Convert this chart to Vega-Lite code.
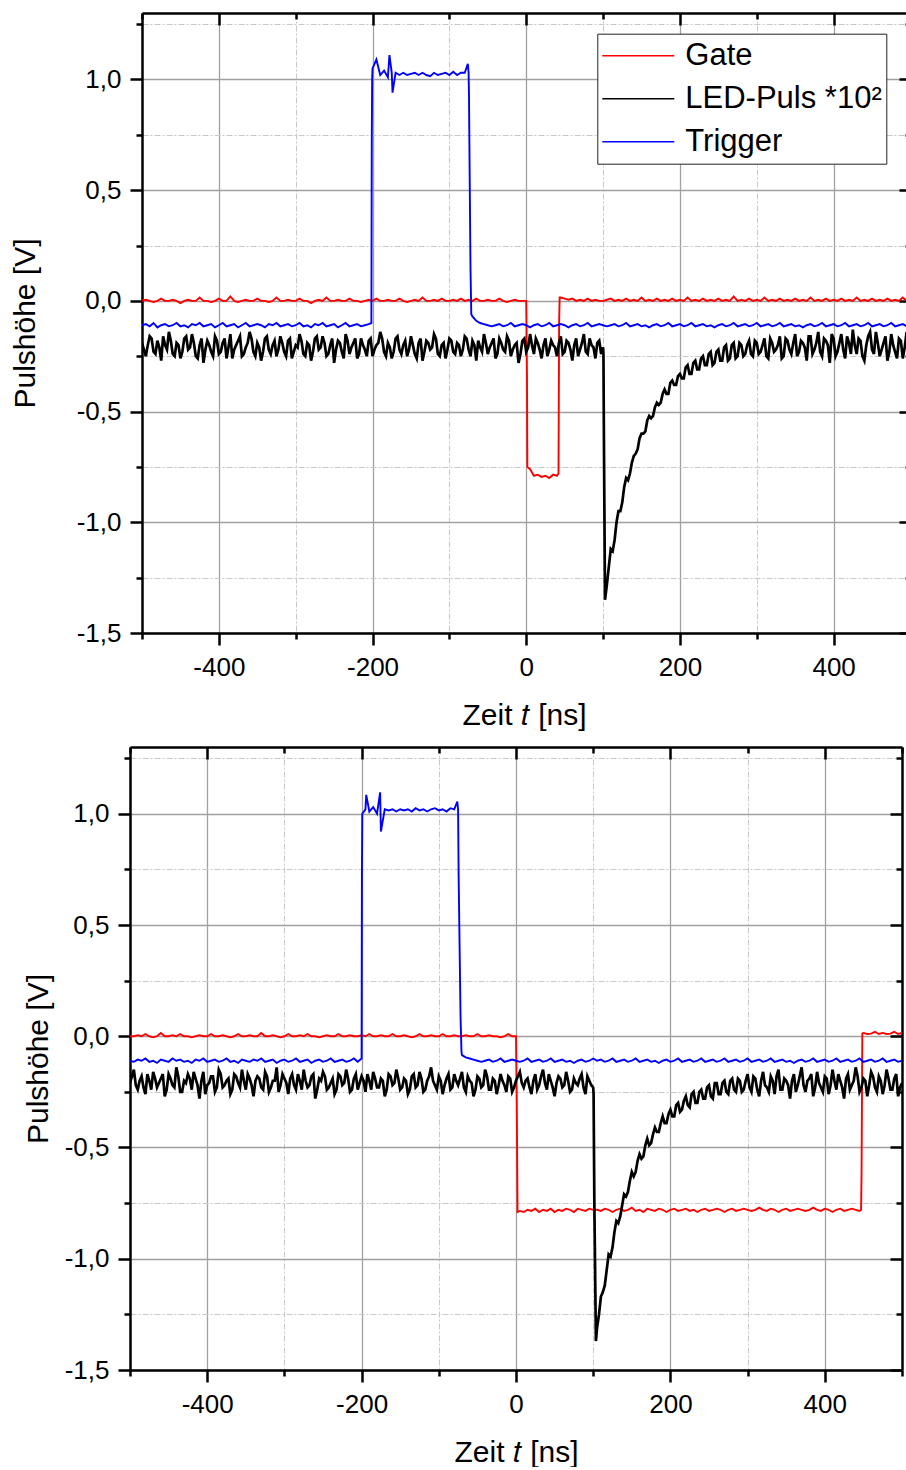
{
"$schema": "https://vega.github.io/schema/vega-lite/v6.json",
"padding": {"left": 10, "top": 11, "right": 0, "bottom": 0},
"spacing": 15,
"config": {
 "view": {"stroke": null},
 "font": "Liberation Sans",
 "axis": {"labelFont": "Liberation Sans", "labelFontSize": 26, "labelColor": "black", "titleFont": "Liberation Sans", "titleFontSize": 30, "titleFontWeight": "normal", "titleColor": "black", "domainColor": "black", "domainWidth": 2.5, "tickColor": "black", "tickWidth": 2.5, "labelFlush": false, "labelOverlap": false, "labelBound": false}
},
"datasets": {
"top": [
{"t":-500,"G":0,"L":-0.19,"T":-0.11},{"t":-495,"G":0.005,"L":-0.25,"T":-0.105},{"t":-490,"G":0,"L":-0.16,"T":-0.115},{"t":-485,"G":-0.005,"L":-0.23,"T":-0.1},{"t":-480,"G":0,"L":-0.18,"T":-0.12},{"t":-475,"G":0.01,"L":-0.27,"T":-0.11},{"t":-470,"G":0,"L":-0.2,"T":-0.105},{"t":-465,"G":0,"L":-0.14,"T":-0.115},{"t":-460,"G":0.005,"L":-0.24,"T":-0.11},{"t":-455,"G":0,"L":-0.19,"T":-0.1},
{"t":-450,"G":-0.01,"L":-0.26,"T":-0.115},{"t":-445,"G":0,"L":-0.17,"T":-0.11},{"t":-440,"G":0.005,"L":-0.22,"T":-0.12},{"t":-435,"G":0,"L":-0.15,"T":-0.105},{"t":-430,"G":0,"L":-0.25,"T":-0.11},{"t":-425,"G":0.015,"L":-0.2,"T":-0.1},{"t":-420,"G":0,"L":-0.28,"T":-0.115},{"t":-415,"G":0,"L":-0.18,"T":-0.11},{"t":-410,"G":-0.005,"L":-0.23,"T":-0.105},{"t":-405,"G":0,"L":-0.16,"T":-0.12},
{"t":-400,"G":0.01,"L":-0.24,"T":-0.11},{"t":-395,"G":0,"L":-0.19,"T":-0.1},{"t":-390,"G":0,"L":-0.26,"T":-0.115},{"t":-385,"G":0.02,"L":-0.15,"T":-0.11},{"t":-380,"G":0,"L":-0.22,"T":-0.105},{"t":-375,"G":-0.005,"L":-0.18,"T":-0.12},{"t":-370,"G":0,"L":-0.25,"T":-0.11},{"t":-365,"G":0.005,"L":-0.21,"T":-0.1},{"t":-360,"G":0,"L":-0.14,"T":-0.115},{"t":-355,"G":0,"L":-0.23,"T":-0.11},
{"t":-350,"G":0.01,"L":-0.19,"T":-0.105},{"t":-345,"G":0,"L":-0.27,"T":-0.11},{"t":-340,"G":0,"L":-0.17,"T":-0.12},{"t":-335,"G":-0.005,"L":-0.22,"T":-0.105},{"t":-330,"G":0,"L":-0.2,"T":-0.11},{"t":-325,"G":0.015,"L":-0.25,"T":-0.1},{"t":-320,"G":0,"L":-0.16,"T":-0.115},{"t":-315,"G":0,"L":-0.23,"T":-0.11},{"t":-310,"G":0.005,"L":-0.18,"T":-0.105},{"t":-305,"G":0,"L":-0.26,"T":-0.115},
{"t":-300,"G":0,"L":-0.2,"T":-0.11},{"t":-295,"G":0.01,"L":-0.15,"T":-0.1},{"t":-290,"G":0,"L":-0.24,"T":-0.115},{"t":-285,"G":0,"L":-0.19,"T":-0.11},{"t":-280,"G":-0.01,"L":-0.27,"T":-0.12},{"t":-275,"G":0,"L":-0.17,"T":-0.105},{"t":-270,"G":0.005,"L":-0.22,"T":-0.11},{"t":-265,"G":0,"L":-0.16,"T":-0.1},{"t":-260,"G":0.015,"L":-0.25,"T":-0.115},{"t":-255,"G":0,"L":-0.2,"T":-0.11},
{"t":-250,"G":0,"L":-0.28,"T":-0.105},{"t":-245,"G":0.005,"L":-0.18,"T":-0.12},{"t":-240,"G":0,"L":-0.23,"T":-0.11},{"t":-235,"G":0,"L":-0.15,"T":-0.1},{"t":-230,"G":0.01,"L":-0.24,"T":-0.115},{"t":-225,"G":0,"L":-0.19,"T":-0.11},{"t":-220,"G":0,"L":-0.26,"T":-0.105},{"t":-215,"G":-0.005,"L":-0.17,"T":-0.115},{"t":-210,"G":0,"L":-0.22,"T":-0.11},{"t":-205,"G":0.005,"L":-0.18,"T":-0.105},
{"t":-201.5,"T":-0.1},{"t":-201,"T":0.71},{"t":-200.5,"T":1.0},
{"t":-200,"G":0,"L":-0.25,"T":1.05},{"t":-195,"G":0.01,"L":-0.2,"T":1.09},{"t":-190,"G":0,"L":-0.14,"T":1.02},{"t":-185,"G":0,"L":-0.23,"T":1.04},{"t":-180,"G":0.005,"L":-0.19,"T":1.01},{"t":-178,"T":1.11},{"t":-175,"G":0,"L":-0.26,"T":1.03},{"t":-174,"T":0.94},
{"t":-170,"G":0,"L":-0.17,"T":1.03},{"t":-165,"G":0.01,"L":-0.22,"T":1.02},{"t":-160,"G":0,"L":-0.2,"T":1.03},{"t":-155,"G":-0.005,"L":-0.25,"T":1.02},{"t":-150,"G":0,"L":-0.16,"T":1.025},{"t":-145,"G":0.005,"L":-0.24,"T":1.03},{"t":-140,"G":0,"L":-0.19,"T":1.02},{"t":-135,"G":0.015,"L":-0.27,"T":1.03},{"t":-130,"G":0,"L":-0.18,"T":1.02},{"t":-125,"G":0,"L":-0.22,"T":1.015},
{"t":-120,"G":0.005,"L":-0.15,"T":1.03},{"t":-115,"G":0,"L":-0.24,"T":1.02},{"t":-110,"G":0.01,"L":-0.2,"T":1.025},{"t":-105,"G":0,"L":-0.26,"T":1.03},{"t":-100,"G":0,"L":-0.17,"T":1.02},{"t":-95,"G":0.005,"L":-0.23,"T":1.035},{"t":-90,"G":0,"L":-0.19,"T":1.02},{"t":-85,"G":0.01,"L":-0.25,"T":1.03},{"t":-80,"G":0,"L":-0.16,"T":1.03},
{"t":-76,"T":1.07},{"t":-75,"G":0.005,"L":-0.22,"T":1.03},{"t":-74.5,"T":0.93},{"t":-72.5,"T":0.14},{"t":-71.5,"T":-0.06},
{"t":-70,"G":0,"L":-0.18,"T":-0.07},{"t":-65,"G":0.01,"L":-0.27,"T":-0.09},{"t":-60,"G":0,"L":-0.21,"T":-0.1},{"t":-55,"G":0,"L":-0.15,"T":-0.105},{"t":-50,"G":0.005,"L":-0.24,"T":-0.11},{"t":-45,"G":0,"L":-0.19,"T":-0.115},{"t":-40,"G":0,"L":-0.26,"T":-0.11},{"t":-35,"G":0.01,"L":-0.17,"T":-0.105},{"t":-30,"G":0,"L":-0.22,"T":-0.115},{"t":-25,"G":-0.005,"L":-0.16,"T":-0.11},
{"t":-20,"G":0,"L":-0.25,"T":-0.1},{"t":-15,"G":0.005,"L":-0.2,"T":-0.115},{"t":-10,"G":0,"L":-0.28,"T":-0.11},{"t":-5,"G":0,"L":-0.18,"T":-0.105},{"t":0,"G":0,"L":-0.23,"T":-0.11},
{"t":1,"G":-0.35},{"t":1.5,"G":-0.75},
{"t":5,"G":-0.76,"L":-0.15,"T":-0.12},{"t":10,"G":-0.79,"L":-0.24,"T":-0.11},{"t":15,"G":-0.785,"L":-0.19,"T":-0.105},{"t":20,"G":-0.795,"L":-0.26,"T":-0.115},{"t":25,"G":-0.79,"L":-0.17,"T":-0.11},{"t":30,"G":-0.8,"L":-0.22,"T":-0.1},{"t":35,"G":-0.785,"L":-0.2,"T":-0.115},{"t":40,"G":-0.79,"L":-0.25,"T":-0.11},
{"t":42,"G":-0.78},{"t":42.8,"G":-0.1},{"t":43.5,"G":0.015},
{"t":45,"G":0.015,"L":-0.16,"T":-0.105},{"t":50,"G":0.01,"L":-0.23,"T":-0.11},{"t":55,"G":0.005,"L":-0.19,"T":-0.12},{"t":60,"G":0.01,"L":-0.27,"T":-0.11},{"t":65,"G":0,"L":-0.17,"T":-0.105},{"t":70,"G":0.005,"L":-0.22,"T":-0.115},{"t":75,"G":0,"L":-0.15,"T":-0.11},{"t":80,"G":0.01,"L":-0.24,"T":-0.1},{"t":85,"G":0,"L":-0.2,"T":-0.115},{"t":90,"G":0.005,"L":-0.26,"T":-0.11},{"t":95,"G":0,"L":-0.18,"T":-0.105},{"t":100,"G":0,"L":-0.21,"T":-0.11},
{"t":100.5,"L":-0.24},{"t":101,"L":-0.56},{"t":102.5,"L":-1.35},
{"t":105,"G":0.005,"L":-1.28,"T":-0.115},{"t":110,"G":0.01,"L":-1.12,"T":-0.11},{"t":115,"G":0,"L":-1.08,"T":-0.105},{"t":120,"G":0.005,"L":-0.95,"T":-0.115},{"t":125,"G":0,"L":-0.91,"T":-0.11},{"t":130,"G":0.01,"L":-0.8,"T":-0.1},{"t":135,"G":0,"L":-0.78,"T":-0.115},{"t":140,"G":0.005,"L":-0.7,"T":-0.11},{"t":145,"G":0,"L":-0.67,"T":-0.105},{"t":150,"G":0.015,"L":-0.6,"T":-0.115},
{"t":155,"G":0,"L":-0.59,"T":-0.11},{"t":160,"G":0.005,"L":-0.52,"T":-0.12},{"t":165,"G":0,"L":-0.52,"T":-0.11},{"t":170,"G":0.01,"L":-0.46,"T":-0.105},{"t":175,"G":0,"L":-0.46,"T":-0.115},{"t":180,"G":0.005,"L":-0.4,"T":-0.11},{"t":185,"G":0,"L":-0.42,"T":-0.1},{"t":190,"G":0.01,"L":-0.36,"T":-0.115},{"t":195,"G":0,"L":-0.38,"T":-0.11},{"t":200,"G":0.005,"L":-0.33,"T":-0.105},
{"t":205,"G":0,"L":-0.35,"T":-0.115},{"t":210,"G":0.015,"L":-0.29,"T":-0.11},{"t":215,"G":0,"L":-0.33,"T":-0.1},{"t":220,"G":0.005,"L":-0.27,"T":-0.115},{"t":225,"G":0,"L":-0.31,"T":-0.11},{"t":230,"G":0.01,"L":-0.25,"T":-0.105},{"t":235,"G":0,"L":-0.29,"T":-0.115},{"t":240,"G":0.005,"L":-0.23,"T":-0.11},{"t":245,"G":0,"L":-0.28,"T":-0.12},{"t":250,"G":0.01,"L":-0.22,"T":-0.11},
{"t":255,"G":0,"L":-0.27,"T":-0.105},{"t":260,"G":0.005,"L":-0.2,"T":-0.115},{"t":265,"G":0,"L":-0.26,"T":-0.11},{"t":270,"G":0.02,"L":-0.19,"T":-0.1},{"t":275,"G":0,"L":-0.25,"T":-0.115},{"t":280,"G":0.005,"L":-0.2,"T":-0.11},{"t":285,"G":0,"L":-0.24,"T":-0.105},{"t":290,"G":0.01,"L":-0.18,"T":-0.115},{"t":295,"G":0,"L":-0.25,"T":-0.11},{"t":300,"G":0.005,"L":-0.19,"T":-0.1},
{"t":305,"G":0,"L":-0.23,"T":-0.115},{"t":310,"G":0.015,"L":-0.17,"T":-0.11},{"t":315,"G":0,"L":-0.26,"T":-0.105},{"t":320,"G":0.005,"L":-0.19,"T":-0.115},{"t":325,"G":0,"L":-0.22,"T":-0.11},{"t":330,"G":0.01,"L":-0.16,"T":-0.1},{"t":335,"G":0,"L":-0.25,"T":-0.115},{"t":340,"G":0.005,"L":-0.18,"T":-0.11},{"t":345,"G":0,"L":-0.24,"T":-0.105},{"t":350,"G":0.01,"L":-0.15,"T":-0.115},
{"t":355,"G":0,"L":-0.23,"T":-0.11},{"t":360,"G":0.005,"L":-0.19,"T":-0.12},{"t":365,"G":0,"L":-0.27,"T":-0.11},{"t":370,"G":0.015,"L":-0.16,"T":-0.105},{"t":375,"G":0,"L":-0.22,"T":-0.115},{"t":380,"G":0.005,"L":-0.14,"T":-0.11},{"t":385,"G":0,"L":-0.25,"T":-0.1},{"t":390,"G":0.01,"L":-0.18,"T":-0.115},{"t":395,"G":0,"L":-0.28,"T":-0.11},{"t":400,"G":0.005,"L":-0.17,"T":-0.105},
{"t":405,"G":0,"L":-0.23,"T":-0.115},{"t":410,"G":0.01,"L":-0.15,"T":-0.11},{"t":415,"G":0,"L":-0.26,"T":-0.1},{"t":420,"G":0.005,"L":-0.19,"T":-0.115},{"t":425,"G":0,"L":-0.13,"T":-0.11},{"t":430,"G":0.015,"L":-0.24,"T":-0.105},{"t":435,"G":0,"L":-0.18,"T":-0.115},{"t":440,"G":0.005,"L":-0.27,"T":-0.11},{"t":445,"G":0,"L":-0.16,"T":-0.1},{"t":450,"G":0.01,"L":-0.22,"T":-0.115},
{"t":455,"G":0,"L":-0.14,"T":-0.11},{"t":460,"G":0.005,"L":-0.25,"T":-0.105},{"t":465,"G":0,"L":-0.19,"T":-0.115},{"t":470,"G":0.01,"L":-0.27,"T":-0.11},{"t":475,"G":0,"L":-0.15,"T":-0.1},{"t":480,"G":0.005,"L":-0.23,"T":-0.115},{"t":485,"G":0,"L":-0.17,"T":-0.11},{"t":490,"G":0.015,"L":-0.26,"T":-0.105},{"t":495,"G":0,"L":-0.14,"T":-0.115},{"t":500,"G":0.005,"L":-0.21,"T":-0.11},
{"t":-497.5,"L":-0.22},{"t":-492.5,"L":-0.2},{"t":-487.5,"L":-0.17},{"t":-482.5,"L":-0.24},{"t":-477.5,"L":-0.21},{"t":-472.5,"L":-0.16},{"t":-467.5,"L":-0.22},{"t":-462.5,"L":-0.18},{"t":-457.5,"L":-0.25},{"t":-452.5,"L":-0.2},
{"t":-447.5,"L":-0.23},{"t":-442.5,"L":-0.16},{"t":-437.5,"L":-0.21},{"t":-432.5,"L":-0.19},{"t":-427.5,"L":-0.26},{"t":-422.5,"L":-0.17},{"t":-417.5,"L":-0.22},{"t":-412.5,"L":-0.2},{"t":-407.5,"L":-0.25},{"t":-402.5,"L":-0.18},
{"t":-397.5,"L":-0.23},{"t":-392.5,"L":-0.17},{"t":-387.5,"L":-0.21},{"t":-382.5,"L":-0.26},{"t":-377.5,"L":-0.2},{"t":-372.5,"L":-0.16},{"t":-367.5,"L":-0.24},{"t":-362.5,"L":-0.19},{"t":-357.5,"L":-0.17},{"t":-352.5,"L":-0.25},
{"t":-347.5,"L":-0.21},{"t":-342.5,"L":-0.23},{"t":-337.5,"L":-0.16},{"t":-332.5,"L":-0.24},{"t":-327.5,"L":-0.18},{"t":-322.5,"L":-0.22},{"t":-317.5,"L":-0.19},{"t":-312.5,"L":-0.25},{"t":-307.5,"L":-0.17},{"t":-302.5,"L":-0.23},
{"t":-297.5,"L":-0.21},{"t":-292.5,"L":-0.18},{"t":-287.5,"L":-0.25},{"t":-282.5,"L":-0.2},{"t":-277.5,"L":-0.23},{"t":-272.5,"L":-0.16},{"t":-267.5,"L":-0.21},{"t":-262.5,"L":-0.19},{"t":-257.5,"L":-0.24},{"t":-252.5,"L":-0.17},
{"t":-247.5,"L":-0.22},{"t":-242.5,"L":-0.19},{"t":-237.5,"L":-0.26},{"t":-232.5,"L":-0.18},{"t":-227.5,"L":-0.21},{"t":-222.5,"L":-0.17},{"t":-217.5,"L":-0.24},{"t":-212.5,"L":-0.2},{"t":-207.5,"L":-0.25},{"t":-202.5,"L":-0.17},
{"t":-197.5,"L":-0.22},{"t":-192.5,"L":-0.19},{"t":-187.5,"L":-0.17},{"t":-182.5,"L":-0.25},{"t":-177.5,"L":-0.21},{"t":-172.5,"L":-0.23},{"t":-167.5,"L":-0.16},{"t":-162.5,"L":-0.24},{"t":-157.5,"L":-0.18},{"t":-152.5,"L":-0.22},
{"t":-147.5,"L":-0.2},{"t":-142.5,"L":-0.26},{"t":-137.5,"L":-0.17},{"t":-132.5,"L":-0.23},{"t":-127.5,"L":-0.19},{"t":-122.5,"L":-0.21},{"t":-117.5,"L":-0.17},{"t":-112.5,"L":-0.25},{"t":-107.5,"L":-0.19},{"t":-102.5,"L":-0.22},
{"t":-97.5,"L":-0.18},{"t":-92.5,"L":-0.24},{"t":-87.5,"L":-0.2},{"t":-82.5,"L":-0.22},{"t":-77.5,"L":-0.17},{"t":-72.5,"L":-0.25},{"t":-67.5,"L":-0.2},{"t":-62.5,"L":-0.18},{"t":-57.5,"L":-0.23},{"t":-52.5,"L":-0.19},
{"t":-47.5,"L":-0.21},{"t":-42.5,"L":-0.17},{"t":-37.5,"L":-0.24},{"t":-32.5,"L":-0.19},{"t":-27.5,"L":-0.23},{"t":-22.5,"L":-0.18},{"t":-17.5,"L":-0.22},{"t":-12.5,"L":-0.19},{"t":-7.5,"L":-0.24},{"t":-2.5,"L":-0.17},
{"t":2.5,"L":-0.21},{"t":7.5,"L":-0.2},{"t":12.5,"L":-0.17},{"t":17.5,"L":-0.22},{"t":22.5,"L":-0.2},{"t":27.5,"L":-0.25},{"t":32.5,"L":-0.18},{"t":37.5,"L":-0.21},{"t":42.5,"L":-0.19},{"t":47.5,"L":-0.24},
{"t":52.5,"L":-0.18},{"t":57.5,"L":-0.22},{"t":62.5,"L":-0.2},{"t":67.5,"L":-0.25},{"t":72.5,"L":-0.19},{"t":77.5,"L":-0.23},{"t":82.5,"L":-0.17},{"t":87.5,"L":-0.21},{"t":92.5,"L":-0.19},{"t":97.5,"L":-0.24},
{"t":107.5,"L":-1.2},{"t":112.5,"L":-1.13},{"t":117.5,"L":-1.0},{"t":122.5,"L":-0.95},{"t":127.5,"L":-0.84},{"t":132.5,"L":-0.81},{"t":137.5,"L":-0.73},{"t":142.5,"L":-0.69},{"t":147.5,"L":-0.62},{"t":152.5,"L":-0.6},
{"t":157.5,"L":-0.54},{"t":162.5,"L":-0.53},{"t":167.5,"L":-0.48},{"t":172.5,"L":-0.47},{"t":177.5,"L":-0.42},{"t":182.5,"L":-0.42},{"t":187.5,"L":-0.37},{"t":192.5,"L":-0.38},{"t":197.5,"L":-0.34},{"t":202.5,"L":-0.35},
{"t":207.5,"L":-0.3},{"t":212.5,"L":-0.33},{"t":217.5,"L":-0.28},{"t":222.5,"L":-0.31},{"t":227.5,"L":-0.26},{"t":232.5,"L":-0.29},{"t":237.5,"L":-0.24},{"t":242.5,"L":-0.29},{"t":247.5,"L":-0.23},{"t":252.5,"L":-0.27},
{"t":257.5,"L":-0.21},{"t":262.5,"L":-0.27},{"t":267.5,"L":-0.2},{"t":272.5,"L":-0.26},{"t":277.5,"L":-0.19},{"t":282.5,"L":-0.25},{"t":287.5,"L":-0.2},{"t":292.5,"L":-0.24},{"t":297.5,"L":-0.18},{"t":302.5,"L":-0.24},
{"t":307.5,"L":-0.2},{"t":312.5,"L":-0.25},{"t":317.5,"L":-0.17},{"t":322.5,"L":-0.23},{"t":327.5,"L":-0.2},{"t":332.5,"L":-0.26},{"t":337.5,"L":-0.17},{"t":342.5,"L":-0.22},{"t":347.5,"L":-0.19},{"t":352.5,"L":-0.25},
{"t":357.5,"L":-0.18},{"t":362.5,"L":-0.21},{"t":367.5,"L":-0.16},{"t":372.5,"L":-0.24},{"t":377.5,"L":-0.19},{"t":382.5,"L":-0.23},{"t":387.5,"L":-0.17},{"t":392.5,"L":-0.2},{"t":397.5,"L":-0.15},{"t":402.5,"L":-0.25},
{"t":407.5,"L":-0.19},{"t":412.5,"L":-0.22},{"t":417.5,"L":-0.16},{"t":422.5,"L":-0.24},{"t":427.5,"L":-0.2},{"t":432.5,"L":-0.17},{"t":437.5,"L":-0.25},{"t":442.5,"L":-0.2},{"t":447.5,"L":-0.14},{"t":452.5,"L":-0.24},
{"t":457.5,"L":-0.19},{"t":462.5,"L":-0.22},{"t":467.5,"L":-0.16},{"t":472.5,"L":-0.23},{"t":477.5,"L":-0.2},{"t":482.5,"L":-0.26},{"t":487.5,"L":-0.18},{"t":492.5,"L":-0.21},{"t":497.5,"L":-0.17}
],
"bottom": [
{"t":-500,"G":0,"L":-0.21,"T":-0.11},{"t":-495,"G":0,"L":-0.15,"T":-0.115},{"t":-490,"G":0.005,"L":-0.24,"T":-0.105},{"t":-485,"G":0,"L":-0.18,"T":-0.11},{"t":-480,"G":0.01,"L":-0.26,"T":-0.1},{"t":-475,"G":0,"L":-0.2,"T":-0.115},{"t":-470,"G":-0.005,"L":-0.16,"T":-0.11},{"t":-465,"G":0,"L":-0.23,"T":-0.12},{"t":-460,"G":0.015,"L":-0.19,"T":-0.105},{"t":-455,"G":0,"L":-0.27,"T":-0.11},
{"t":-450,"G":0,"L":-0.17,"T":-0.115},{"t":-445,"G":0.005,"L":-0.22,"T":-0.1},{"t":-440,"G":0,"L":-0.14,"T":-0.11},{"t":-435,"G":0.01,"L":-0.25,"T":-0.105},{"t":-430,"G":0,"L":-0.2,"T":-0.115},{"t":-425,"G":0,"L":-0.17,"T":-0.11},{"t":-420,"G":-0.005,"L":-0.24,"T":-0.12},{"t":-415,"G":0,"L":-0.19,"T":-0.105},{"t":-410,"G":0.005,"L":-0.28,"T":-0.11},{"t":-405,"G":0,"L":-0.16,"T":-0.1},
{"t":-400,"G":0,"L":-0.22,"T":-0.115},{"t":-395,"G":0.01,"L":-0.18,"T":-0.11},{"t":-390,"G":0,"L":-0.25,"T":-0.105},{"t":-385,"G":0,"L":-0.15,"T":-0.115},{"t":-380,"G":0.005,"L":-0.23,"T":-0.11},{"t":-375,"G":0,"L":-0.2,"T":-0.1},{"t":-370,"G":-0.005,"L":-0.26,"T":-0.115},{"t":-365,"G":0,"L":-0.17,"T":-0.11},{"t":-360,"G":0.01,"L":-0.21,"T":-0.12},{"t":-355,"G":0,"L":-0.15,"T":-0.105},
{"t":-350,"G":0,"L":-0.24,"T":-0.11},{"t":-345,"G":0.005,"L":-0.19,"T":-0.115},{"t":-340,"G":0,"L":-0.27,"T":-0.105},{"t":-335,"G":0,"L":-0.18,"T":-0.11},{"t":-330,"G":0.015,"L":-0.23,"T":-0.1},{"t":-325,"G":0,"L":-0.16,"T":-0.115},{"t":-320,"G":0,"L":-0.25,"T":-0.11},{"t":-315,"G":0.005,"L":-0.2,"T":-0.105},{"t":-310,"G":0,"L":-0.14,"T":-0.12},{"t":-305,"G":-0.005,"L":-0.22,"T":-0.11},
{"t":-300,"G":0,"L":-0.19,"T":-0.105},{"t":-295,"G":0.01,"L":-0.26,"T":-0.115},{"t":-290,"G":0,"L":-0.17,"T":-0.11},{"t":-285,"G":0,"L":-0.24,"T":-0.1},{"t":-280,"G":0.005,"L":-0.2,"T":-0.115},{"t":-275,"G":0,"L":-0.15,"T":-0.11},{"t":-270,"G":0.01,"L":-0.23,"T":-0.105},{"t":-265,"G":0,"L":-0.18,"T":-0.12},{"t":-260,"G":0,"L":-0.28,"T":-0.11},{"t":-255,"G":-0.005,"L":-0.19,"T":-0.105},
{"t":-250,"G":0,"L":-0.16,"T":-0.115},{"t":-245,"G":0.005,"L":-0.24,"T":-0.11},{"t":-240,"G":0,"L":-0.21,"T":-0.1},{"t":-235,"G":0,"L":-0.26,"T":-0.115},{"t":-230,"G":0.01,"L":-0.17,"T":-0.11},{"t":-225,"G":0,"L":-0.22,"T":-0.105},{"t":-220,"G":0,"L":-0.15,"T":-0.115},{"t":-215,"G":0.005,"L":-0.25,"T":-0.11},{"t":-210,"G":0,"L":-0.19,"T":-0.1},{"t":-205,"G":0,"L":-0.24,"T":-0.115},
{"t":-200,"G":0.005,"L":-0.18,"T":-0.1},{"t":-199.6,"T":0.72},{"t":-199.1,"T":1.0},
{"t":-195,"G":0,"L":-0.25,"T":1.02},{"t":-194,"T":1.085},{"t":-190,"G":0.01,"L":-0.2,"T":1.01},{"t":-185,"G":0,"L":-0.16,"T":1.03},{"t":-180,"G":0,"L":-0.23,"T":1.0},{"t":-176,"T":1.096},{"t":-175,"G":0.005,"L":-0.19,"T":0.92},
{"t":-170,"G":0,"L":-0.27,"T":1.02},{"t":-165,"G":0,"L":-0.17,"T":1.015},{"t":-160,"G":0.01,"L":-0.22,"T":1.02},{"t":-155,"G":0,"L":-0.15,"T":1.01},{"t":-150,"G":0,"L":-0.24,"T":1.02},{"t":-145,"G":0.005,"L":-0.19,"T":1.015},{"t":-140,"G":0,"L":-0.26,"T":1.02},{"t":-135,"G":-0.005,"L":-0.18,"T":1.01},{"t":-130,"G":0,"L":-0.23,"T":1.025},{"t":-125,"G":0.01,"L":-0.16,"T":1.015},
{"t":-120,"G":0,"L":-0.25,"T":1.02},{"t":-115,"G":0,"L":-0.2,"T":1.01},{"t":-110,"G":0.005,"L":-0.14,"T":1.02},{"t":-105,"G":0,"L":-0.22,"T":1.025},{"t":-100,"G":0,"L":-0.18,"T":1.015},{"t":-95,"G":0.01,"L":-0.26,"T":1.02},{"t":-90,"G":0,"L":-0.19,"T":1.01},{"t":-85,"G":0,"L":-0.24,"T":1.025},{"t":-80,"G":0.005,"L":-0.17,"T":1.02},
{"t":-76,"T":1.055},{"t":-75,"G":0,"L":-0.22,"T":1.02},{"t":-74.3,"T":0.72},{"t":-71.8,"T":0.08},{"t":-70.6,"T":-0.07},
{"t":-70,"G":0,"L":-0.16,"T":-0.085},{"t":-65,"G":0.005,"L":-0.25,"T":-0.095},{"t":-60,"G":0,"L":-0.2,"T":-0.1},{"t":-55,"G":0,"L":-0.27,"T":-0.105},{"t":-50,"G":0.01,"L":-0.18,"T":-0.11},{"t":-45,"G":0,"L":-0.23,"T":-0.115},{"t":-40,"G":0,"L":-0.15,"T":-0.11},{"t":-35,"G":0.005,"L":-0.24,"T":-0.105},{"t":-30,"G":0,"L":-0.19,"T":-0.115},{"t":-25,"G":0,"L":-0.26,"T":-0.11},
{"t":-20,"G":-0.005,"L":-0.17,"T":-0.1},{"t":-15,"G":0,"L":-0.22,"T":-0.115},{"t":-10,"G":0.01,"L":-0.18,"T":-0.11},{"t":-5,"G":0,"L":-0.25,"T":-0.105},{"t":0,"G":0,"L":-0.2,"T":-0.11},
{"t":1,"G":-0.3},{"t":2,"G":-0.79},
{"t":5,"G":-0.785,"L":-0.16,"T":-0.115},{"t":10,"G":-0.79,"L":-0.23,"T":-0.11},{"t":15,"G":-0.78,"L":-0.19,"T":-0.1},{"t":20,"G":-0.785,"L":-0.26,"T":-0.115},{"t":25,"G":-0.775,"L":-0.17,"T":-0.11},{"t":30,"G":-0.79,"L":-0.22,"T":-0.105},{"t":35,"G":-0.78,"L":-0.15,"T":-0.115},{"t":40,"G":-0.785,"L":-0.24,"T":-0.11},{"t":45,"G":-0.775,"L":-0.2,"T":-0.1},{"t":50,"G":-0.79,"L":-0.27,"T":-0.115},
{"t":55,"G":-0.78,"L":-0.18,"T":-0.11},{"t":60,"G":-0.785,"L":-0.23,"T":-0.105},{"t":65,"G":-0.775,"L":-0.16,"T":-0.115},{"t":70,"G":-0.78,"L":-0.25,"T":-0.11},{"t":75,"G":-0.79,"L":-0.19,"T":-0.12},{"t":80,"G":-0.775,"L":-0.22,"T":-0.11},{"t":85,"G":-0.78,"L":-0.17,"T":-0.105},{"t":90,"G":-0.785,"L":-0.26,"T":-0.115},{"t":95,"G":-0.775,"L":-0.2,"T":-0.11},{"t":100,"G":-0.78,"L":-0.23,"T":-0.1},
{"t":100.5,"L":-0.26},{"t":101.5,"L":-0.75},{"t":103.5,"L":-1.37},
{"t":105,"G":-0.78,"L":-1.31,"T":-0.11},{"t":110,"G":-0.785,"L":-1.17,"T":-0.105},{"t":115,"G":-0.775,"L":-1.12,"T":-0.115},{"t":120,"G":-0.78,"L":-0.98,"T":-0.11},{"t":125,"G":-0.79,"L":-0.95,"T":-0.1},{"t":130,"G":-0.78,"L":-0.83,"T":-0.115},{"t":135,"G":-0.775,"L":-0.81,"T":-0.11},{"t":140,"G":-0.785,"L":-0.71,"T":-0.105},{"t":145,"G":-0.78,"L":-0.7,"T":-0.115},{"t":150,"G":-0.77,"L":-0.61,"T":-0.11},
{"t":155,"G":-0.785,"L":-0.61,"T":-0.1},{"t":160,"G":-0.78,"L":-0.53,"T":-0.115},{"t":165,"G":-0.79,"L":-0.54,"T":-0.11},{"t":170,"G":-0.775,"L":-0.46,"T":-0.105},{"t":175,"G":-0.78,"L":-0.48,"T":-0.115},{"t":180,"G":-0.785,"L":-0.41,"T":-0.11},{"t":185,"G":-0.775,"L":-0.43,"T":-0.12},{"t":190,"G":-0.78,"L":-0.36,"T":-0.11},{"t":195,"G":-0.79,"L":-0.39,"T":-0.105},{"t":200,"G":-0.78,"L":-0.33,"T":-0.115},
{"t":205,"G":-0.775,"L":-0.36,"T":-0.11},{"t":210,"G":-0.785,"L":-0.3,"T":-0.1},{"t":215,"G":-0.78,"L":-0.33,"T":-0.115},{"t":220,"G":-0.775,"L":-0.27,"T":-0.11},{"t":225,"G":-0.785,"L":-0.32,"T":-0.105},{"t":230,"G":-0.78,"L":-0.25,"T":-0.115},{"t":235,"G":-0.79,"L":-0.3,"T":-0.11},{"t":240,"G":-0.78,"L":-0.24,"T":-0.1},{"t":245,"G":-0.775,"L":-0.28,"T":-0.115},{"t":250,"G":-0.785,"L":-0.22,"T":-0.11},
{"t":255,"G":-0.78,"L":-0.28,"T":-0.105},{"t":260,"G":-0.775,"L":-0.21,"T":-0.115},{"t":265,"G":-0.78,"L":-0.26,"T":-0.11},{"t":270,"G":-0.79,"L":-0.2,"T":-0.1},{"t":275,"G":-0.78,"L":-0.26,"T":-0.115},{"t":280,"G":-0.775,"L":-0.19,"T":-0.11},{"t":285,"G":-0.785,"L":-0.25,"T":-0.105},{"t":290,"G":-0.78,"L":-0.2,"T":-0.115},{"t":295,"G":-0.775,"L":-0.24,"T":-0.11},{"t":300,"G":-0.78,"L":-0.17,"T":-0.1},
{"t":305,"G":-0.785,"L":-0.25,"T":-0.115},{"t":310,"G":-0.78,"L":-0.19,"T":-0.11},{"t":315,"G":-0.77,"L":-0.27,"T":-0.105},{"t":320,"G":-0.78,"L":-0.16,"T":-0.115},{"t":325,"G":-0.785,"L":-0.23,"T":-0.11},{"t":330,"G":-0.775,"L":-0.18,"T":-0.1},{"t":335,"G":-0.78,"L":-0.26,"T":-0.115},{"t":340,"G":-0.79,"L":-0.15,"T":-0.11},{"t":345,"G":-0.78,"L":-0.24,"T":-0.105},{"t":350,"G":-0.775,"L":-0.2,"T":-0.115},
{"t":355,"G":-0.785,"L":-0.28,"T":-0.11},{"t":360,"G":-0.78,"L":-0.17,"T":-0.12},{"t":365,"G":-0.775,"L":-0.22,"T":-0.11},{"t":370,"G":-0.78,"L":-0.14,"T":-0.105},{"t":375,"G":-0.785,"L":-0.25,"T":-0.115},{"t":380,"G":-0.78,"L":-0.19,"T":-0.11},{"t":385,"G":-0.77,"L":-0.27,"T":-0.1},{"t":390,"G":-0.78,"L":-0.16,"T":-0.115},{"t":395,"G":-0.785,"L":-0.23,"T":-0.11},{"t":400,"G":-0.775,"L":-0.18,"T":-0.105},
{"t":405,"G":-0.78,"L":-0.26,"T":-0.115},{"t":410,"G":-0.79,"L":-0.15,"T":-0.11},{"t":415,"G":-0.78,"L":-0.24,"T":-0.1},{"t":420,"G":-0.775,"L":-0.2,"T":-0.115},{"t":425,"G":-0.785,"L":-0.28,"T":-0.11},{"t":430,"G":-0.78,"L":-0.17,"T":-0.105},{"t":435,"G":-0.775,"L":-0.22,"T":-0.115},{"t":440,"G":-0.78,"L":-0.14,"T":-0.11},{"t":445,"G":-0.785,"L":-0.25,"T":-0.1},
{"t":447,"G":-0.78},{"t":447.6,"G":-0.62},{"t":448.6,"G":0.012},
{"t":450,"G":0.015,"L":-0.19,"T":-0.115},{"t":455,"G":0.01,"L":-0.27,"T":-0.11},{"t":460,"G":0.012,"L":-0.16,"T":-0.105},{"t":465,"G":0.02,"L":-0.23,"T":-0.115},{"t":470,"G":0.01,"L":-0.18,"T":-0.11},{"t":475,"G":0.015,"L":-0.26,"T":-0.1},{"t":480,"G":0.01,"L":-0.15,"T":-0.115},{"t":485,"G":0.012,"L":-0.24,"T":-0.11},{"t":490,"G":0.02,"L":-0.19,"T":-0.105},{"t":495,"G":0.01,"L":-0.27,"T":-0.115},{"t":500,"G":0.015,"L":-0.21,"T":-0.11},
{"t":-497.5,"L":-0.18},{"t":-492.5,"L":-0.22},{"t":-487.5,"L":-0.2},{"t":-482.5,"L":-0.23},{"t":-477.5,"L":-0.17},{"t":-472.5,"L":-0.24},{"t":-467.5,"L":-0.19},{"t":-462.5,"L":-0.21},{"t":-457.5,"L":-0.17},{"t":-452.5,"L":-0.24},
{"t":-447.5,"L":-0.19},{"t":-442.5,"L":-0.23},{"t":-437.5,"L":-0.18},{"t":-432.5,"L":-0.25},{"t":-427.5,"L":-0.21},{"t":-422.5,"L":-0.19},{"t":-417.5,"L":-0.16},{"t":-412.5,"L":-0.22},{"t":-407.5,"L":-0.2},{"t":-402.5,"L":-0.26},
{"t":-397.5,"L":-0.21},{"t":-392.5,"L":-0.18},{"t":-387.5,"L":-0.23},{"t":-382.5,"L":-0.17},{"t":-377.5,"L":-0.22},{"t":-372.5,"L":-0.19},{"t":-367.5,"L":-0.24},{"t":-362.5,"L":-0.18},{"t":-357.5,"L":-0.23},{"t":-352.5,"L":-0.2},
{"t":-347.5,"L":-0.17},{"t":-342.5,"L":-0.22},{"t":-337.5,"L":-0.2},{"t":-332.5,"L":-0.19},{"t":-327.5,"L":-0.24},{"t":-322.5,"L":-0.18},{"t":-317.5,"L":-0.23},{"t":-312.5,"L":-0.2},{"t":-307.5,"L":-0.25},{"t":-302.5,"L":-0.17},
{"t":-297.5,"L":-0.21},{"t":-292.5,"L":-0.19},{"t":-287.5,"L":-0.22},{"t":-282.5,"L":-0.17},{"t":-277.5,"L":-0.24},{"t":-272.5,"L":-0.2},{"t":-267.5,"L":-0.22},{"t":-262.5,"L":-0.17},{"t":-257.5,"L":-0.24},{"t":-252.5,"L":-0.2},
{"t":-247.5,"L":-0.18},{"t":-242.5,"L":-0.23},{"t":-237.5,"L":-0.19},{"t":-232.5,"L":-0.24},{"t":-227.5,"L":-0.18},{"t":-222.5,"L":-0.21},{"t":-217.5,"L":-0.19},{"t":-212.5,"L":-0.24},{"t":-207.5,"L":-0.17},{"t":-202.5,"L":-0.21},
{"t":-197.5,"L":-0.2},{"t":-192.5,"L":-0.17},{"t":-187.5,"L":-0.24},{"t":-182.5,"L":-0.19},{"t":-177.5,"L":-0.23},{"t":-172.5,"L":-0.2},{"t":-167.5,"L":-0.24},{"t":-162.5,"L":-0.18},{"t":-157.5,"L":-0.21},{"t":-152.5,"L":-0.19},
{"t":-147.5,"L":-0.23},{"t":-142.5,"L":-0.2},{"t":-137.5,"L":-0.24},{"t":-132.5,"L":-0.17},{"t":-127.5,"L":-0.22},{"t":-122.5,"L":-0.19},{"t":-117.5,"L":-0.24},{"t":-112.5,"L":-0.18},{"t":-107.5,"L":-0.2},{"t":-102.5,"L":-0.24},
{"t":-97.5,"L":-0.2},{"t":-92.5,"L":-0.22},{"t":-87.5,"L":-0.17},{"t":-82.5,"L":-0.23},{"t":-77.5,"L":-0.2},{"t":-72.5,"L":-0.19},{"t":-67.5,"L":-0.23},{"t":-62.5,"L":-0.18},{"t":-57.5,"L":-0.21},{"t":-52.5,"L":-0.24},
{"t":-47.5,"L":-0.19},{"t":-42.5,"L":-0.22},{"t":-37.5,"L":-0.18},{"t":-32.5,"L":-0.24},{"t":-27.5,"L":-0.2},{"t":-22.5,"L":-0.22},{"t":-17.5,"L":-0.2},{"t":-12.5,"L":-0.25},{"t":-7.5,"L":-0.19},{"t":-2.5,"L":-0.23},
{"t":2.5,"L":-0.18},{"t":7.5,"L":-0.21},{"t":12.5,"L":-0.2},{"t":17.5,"L":-0.23},{"t":22.5,"L":-0.2},{"t":27.5,"L":-0.24},{"t":32.5,"L":-0.18},{"t":37.5,"L":-0.21},{"t":42.5,"L":-0.17},{"t":47.5,"L":-0.23},
{"t":52.5,"L":-0.21},{"t":57.5,"L":-0.19},{"t":62.5,"L":-0.22},{"t":67.5,"L":-0.2},{"t":72.5,"L":-0.24},{"t":77.5,"L":-0.21},{"t":82.5,"L":-0.19},{"t":87.5,"L":-0.23},{"t":92.5,"L":-0.18},{"t":97.5,"L":-0.22},
{"t":107.5,"L":-1.25},{"t":112.5,"L":-1.15},{"t":117.5,"L":-1.05},{"t":122.5,"L":-0.99},{"t":127.5,"L":-0.88},{"t":132.5,"L":-0.84},{"t":137.5,"L":-0.76},{"t":142.5,"L":-0.72},{"t":147.5,"L":-0.65},{"t":152.5,"L":-0.63},
{"t":157.5,"L":-0.56},{"t":162.5,"L":-0.55},{"t":167.5,"L":-0.49},{"t":172.5,"L":-0.49},{"t":177.5,"L":-0.44},{"t":182.5,"L":-0.43},{"t":187.5,"L":-0.39},{"t":192.5,"L":-0.39},{"t":197.5,"L":-0.35},{"t":202.5,"L":-0.36},
{"t":207.5,"L":-0.31},{"t":212.5,"L":-0.34},{"t":217.5,"L":-0.29},{"t":222.5,"L":-0.31},{"t":227.5,"L":-0.26},{"t":232.5,"L":-0.3},{"t":237.5,"L":-0.25},{"t":242.5,"L":-0.28},{"t":247.5,"L":-0.23},{"t":252.5,"L":-0.27},
{"t":257.5,"L":-0.21},{"t":262.5,"L":-0.26},{"t":267.5,"L":-0.21},{"t":272.5,"L":-0.25},{"t":277.5,"L":-0.2},{"t":282.5,"L":-0.24},{"t":287.5,"L":-0.19},{"t":292.5,"L":-0.25},{"t":297.5,"L":-0.2},{"t":302.5,"L":-0.23},
{"t":307.5,"L":-0.18},{"t":312.5,"L":-0.24},{"t":317.5,"L":-0.2},{"t":322.5,"L":-0.22},{"t":327.5,"L":-0.25},{"t":332.5,"L":-0.2},{"t":337.5,"L":-0.18},{"t":342.5,"L":-0.24},{"t":347.5,"L":-0.19},{"t":352.5,"L":-0.22},
{"t":357.5,"L":-0.2},{"t":362.5,"L":-0.25},{"t":367.5,"L":-0.18},{"t":372.5,"L":-0.22},{"t":377.5,"L":-0.2},{"t":382.5,"L":-0.17},{"t":387.5,"L":-0.23},{"t":392.5,"L":-0.21},{"t":397.5,"L":-0.25},{"t":402.5,"L":-0.19},
{"t":407.5,"L":-0.22},{"t":412.5,"L":-0.2},{"t":417.5,"L":-0.17},{"t":422.5,"L":-0.23},{"t":427.5,"L":-0.19},{"t":432.5,"L":-0.24},{"t":437.5,"L":-0.2},{"t":442.5,"L":-0.18},{"t":447.5,"L":-0.23},{"t":452.5,"L":-0.2},
{"t":457.5,"L":-0.22},{"t":462.5,"L":-0.18},{"t":467.5,"L":-0.25},{"t":472.5,"L":-0.2},{"t":477.5,"L":-0.22},{"t":482.5,"L":-0.19},{"t":487.5,"L":-0.24},{"t":492.5,"L":-0.17},{"t":497.5,"L":-0.23}
]
},
"vconcat": [
 {
  "hconcat": [
   {"width": 12, "height": 10, "data": {"values": [{}]}, "mark": {"type": "point", "opacity": 0}},
   {
    "width": 764, "height": 620,
    "data": {"name": "top"},
    "transform": [{"fold": ["G", "L", "T"], "as": ["s", "v"]}, {"filter": "isValid(datum.v)"}],
    "layer": [
     {
      "transform": [{"filter": "datum.s === 'G'"}],
      "mark": {"type": "line", "clip": true, "strokeWidth": 1.9},
      "encoding": {
       "x": {"field": "t", "type": "quantitative", "scale": {"domain": [-500, 494.2], "nice": false, "zero": false},
        "axis": {"orient": "bottom", "values": [-500,-400,-300,-200,-100,0,100,200,300,400], "labelExpr": "datum.value % 200 === 0 ? (datum.value < 0 ? '-' : '') + abs(datum.value) : ''", "tickSize": 12, "labelPadding": 9, "grid": true,
         "gridColor": {"condition": {"test": "datum.value % 200 === 0", "value": "#a0a0a0"}, "value": "#c8c8c8"},
         "gridDash": {"condition": {"test": "datum.value % 200 === 0", "value": []}, "value": [6, 2, 2, 2]},
         "gridWidth": {"condition": {"test": "datum.value % 200 === 0", "value": 1.3}, "value": 1},
         "encoding": {"ticks": {"y2": {"condition": {"test": "datum.value % 200 === 0", "value": 12}, "value": 6}}},
         "title": "Zeit 𝑡 [ns]", "titlePadding": 20}},
       "y": {"field": "v", "type": "quantitative", "scale": {"domain": [-1.5, 1.3], "nice": false, "zero": false},
        "axis": {"orient": "left", "values": [-1.5,-1.25,-1,-0.75,-0.5,-0.25,0,0.25,0.5,0.75,1,1.25], "labelExpr": "abs(datum.value*2-round(datum.value*2)) < 0.001 ? (datum.value < 0 ? '-' : '') + replace(format(abs(datum.value), '.1f'), '.', ',') : ''", "tickSize": 12, "labelPadding": 9, "grid": true,
         "gridColor": {"condition": {"test": "abs(datum.value*2-round(datum.value*2)) < 0.001", "value": "#a0a0a0"}, "value": "#c8c8c8"},
         "gridDash": {"condition": {"test": "abs(datum.value*2-round(datum.value*2)) < 0.001", "value": []}, "value": [6, 2, 2, 2]},
         "gridWidth": {"condition": {"test": "abs(datum.value*2-round(datum.value*2)) < 0.001", "value": 1.3}, "value": 1},
         "encoding": {"ticks": {"x2": {"condition": {"test": "abs(datum.value*2-round(datum.value*2)) < 0.001", "value": -12}, "value": -6}}},
         "title": "Pulshöhe [V]", "titlePadding": 36}},
       "color": {"field": "s", "type": "nominal", "scale": {"domain": ["G", "L", "T"], "range": ["#ff0000", "#000000", "#0000ff"]},
        "legend": {"title": null, "orient": "none", "legendX": 467.3, "legendY": 20.7, "symbolType": "stroke", "symbolSize": 5184, "symbolStrokeWidth": 1.5, "labelOffset": 10, "labelFontSize": 31, "labelFont": "Liberation Sans", "labelColor": "black", "labelLimit": 400, "padding": 4, "rowPadding": 7, "clipHeight": 36, "strokeColor": "#222222", "fillColor": "white", "cornerRadius": 0,
         "labelExpr": "datum.label === 'G' ? 'Gate' : datum.label === 'L' ? 'LED-Puls *10²' : 'Trigger'"}}
      }
     },
     {
      "transform": [{"filter": "datum.s === 'L'"}],
      "mark": {"type": "line", "clip": true, "strokeWidth": 2.7},
      "encoding": {
       "x": {"field": "t", "type": "quantitative", "axis": null},
       "y": {"field": "v", "type": "quantitative", "axis": null},
       "color": {"field": "s", "type": "nominal"}
      }
     },
     {
      "transform": [{"filter": "datum.s === 'T'"}],
      "mark": {"type": "line", "clip": true, "strokeWidth": 1.9},
      "encoding": {
       "x": {"field": "t", "type": "quantitative", "axis": null},
       "y": {"field": "v", "type": "quantitative", "axis": null},
       "color": {"field": "s", "type": "nominal"}
      }
     },
     {
      "transform": [{"filter": "false"}],
      "mark": {"type": "line"},
      "encoding": {
       "x": {"field": "t", "type": "quantitative", "axis": {"orient": "top", "values": [-500,-400,-300,-200,-100,0,100,200,300,400], "labels": false, "title": null, "grid": false, "tickSize": 12, "minExtent": 0, "maxExtent": 0, "encoding": {"ticks": {"y2": {"condition": {"test": "datum.value % 200 === 0", "value": 12}, "value": 6}}}}},
       "y": {"field": "v", "type": "quantitative", "axis": {"orient": "right", "values": [-1.5,-1.25,-1,-0.75,-0.5,-0.25,0,0.25,0.5,0.75,1,1.25], "labels": false, "title": null, "grid": false, "domain": false, "tickSize": 7, "minExtent": 0, "maxExtent": 0, "encoding": {"ticks": {"x2": {"condition": {"test": "abs(datum.value*2-round(datum.value*2)) < 0.001", "value": -7}, "value": -1}}}}}
      }
     }
    ],
    "resolve": {"axis": {"x": "independent", "y": "independent"}}
   }
  ],
  "spacing": 0,
  "bounds": "flush"
 },
 {
  "width": 772, "height": 623,
  "data": {"name": "bottom"},
  "transform": [{"fold": ["G", "L", "T"], "as": ["s", "v"]}, {"filter": "isValid(datum.v)"}],
  "layer": [
   {
    "transform": [{"filter": "datum.s === 'G'"}],
    "mark": {"type": "line", "clip": true, "strokeWidth": 1.9},
    "encoding": {
     "x": {"field": "t", "type": "quantitative", "scale": {"domain": [-500, 500], "nice": false, "zero": false},
      "axis": {"orient": "bottom", "values": [-500,-400,-300,-200,-100,0,100,200,300,400,500], "labelExpr": "datum.value % 200 === 0 ? (datum.value < 0 ? '-' : '') + abs(datum.value) : ''", "tickSize": 12, "labelPadding": 9, "grid": true,
       "gridColor": {"condition": {"test": "datum.value % 200 === 0", "value": "#a0a0a0"}, "value": "#c8c8c8"},
       "gridDash": {"condition": {"test": "datum.value % 200 === 0", "value": []}, "value": [6, 2, 2, 2]},
       "gridWidth": {"condition": {"test": "datum.value % 200 === 0", "value": 1.3}, "value": 1},
       "encoding": {"ticks": {"y2": {"condition": {"test": "datum.value % 200 === 0", "value": 12}, "value": 6}}},
       "title": "Zeit 𝑡 [ns]", "titlePadding": 20}},
     "y": {"field": "v", "type": "quantitative", "scale": {"domain": [-1.5, 1.3], "nice": false, "zero": false},
      "axis": {"orient": "left", "values": [-1.5,-1.25,-1,-0.75,-0.5,-0.25,0,0.25,0.5,0.75,1,1.25], "labelExpr": "abs(datum.value*2-round(datum.value*2)) < 0.001 ? (datum.value < 0 ? '-' : '') + replace(format(abs(datum.value), '.1f'), '.', ',') : ''", "tickSize": 12, "labelPadding": 9, "grid": true,
       "gridColor": {"condition": {"test": "abs(datum.value*2-round(datum.value*2)) < 0.001", "value": "#a0a0a0"}, "value": "#c8c8c8"},
       "gridDash": {"condition": {"test": "abs(datum.value*2-round(datum.value*2)) < 0.001", "value": []}, "value": [6, 2, 2, 2]},
       "gridWidth": {"condition": {"test": "abs(datum.value*2-round(datum.value*2)) < 0.001", "value": 1.3}, "value": 1},
       "encoding": {"ticks": {"x2": {"condition": {"test": "abs(datum.value*2-round(datum.value*2)) < 0.001", "value": -12}, "value": -6}}},
       "title": "Pulshöhe [V]", "titlePadding": 11}},
     "color": {"field": "s", "type": "nominal", "scale": {"domain": ["G", "L", "T"], "range": ["#ff0000", "#000000", "#0000ff"]},
      "legend": {"title": null, "orient": "none", "legendX": 452.8, "legendY": 19, "symbolType": "stroke", "symbolSize": 5184, "symbolStrokeWidth": 1.5, "labelOffset": 10, "labelFontSize": 31, "labelFont": "Liberation Sans", "labelColor": "black", "labelLimit": 400, "padding": 4, "rowPadding": 7, "clipHeight": 36, "strokeColor": "#222222", "fillColor": "white", "cornerRadius": 0,
       "labelExpr": "datum.label === 'G' ? 'Gate' : datum.label === 'L' ? 'LED-Puls *10²' : 'Trigger'"}}
    }
   },
   {
    "transform": [{"filter": "datum.s === 'L'"}],
    "mark": {"type": "line", "clip": true, "strokeWidth": 2.7},
    "encoding": {
     "x": {"field": "t", "type": "quantitative", "axis": null},
     "y": {"field": "v", "type": "quantitative", "axis": null},
     "color": {"field": "s", "type": "nominal"}
    }
   },
   {
    "transform": [{"filter": "datum.s === 'T'"}],
    "mark": {"type": "line", "clip": true, "strokeWidth": 1.9},
    "encoding": {
     "x": {"field": "t", "type": "quantitative", "axis": null},
     "y": {"field": "v", "type": "quantitative", "axis": null},
     "color": {"field": "s", "type": "nominal"}
    }
   },
   {
    "transform": [{"filter": "false"}],
    "mark": {"type": "line"},
    "encoding": {
     "x": {"field": "t", "type": "quantitative", "axis": {"orient": "top", "values": [-500,-400,-300,-200,-100,0,100,200,300,400,500], "labels": false, "title": null, "grid": false, "tickSize": 12, "minExtent": 0, "maxExtent": 0, "encoding": {"ticks": {"y2": {"condition": {"test": "datum.value % 200 === 0", "value": 12}, "value": 6}}}}},
     "y": {"field": "v", "type": "quantitative", "axis": {"orient": "right", "values": [-1.5,-1.25,-1,-0.75,-0.5,-0.25,0,0.25,0.5,0.75,1,1.25], "labels": false, "title": null, "grid": false, "tickSize": 12, "minExtent": 0, "maxExtent": 0, "encoding": {"ticks": {"x2": {"condition": {"test": "abs(datum.value*2-round(datum.value*2)) < 0.001", "value": -12}, "value": -6}}}}}
    }
   }
  ],
  "resolve": {"axis": {"x": "independent", "y": "independent"}}
 }
]
}
